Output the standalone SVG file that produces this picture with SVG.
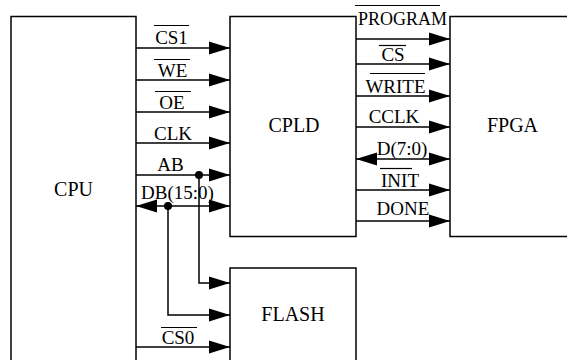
<svg xmlns="http://www.w3.org/2000/svg" width="567" height="360" viewBox="0 0 567 360">
<defs>
<marker id="ah" markerUnits="userSpaceOnUse" markerWidth="22" markerHeight="14" refX="21" refY="7" orient="auto-start-reverse" viewBox="0 0 22 14">
<path d="M0,0.5 L21,7 L0,13.5 Z" fill="#000"/>
</marker>
<style>
.box{fill:#fff;stroke:#000;stroke-width:1.5}
.t{font-size:20px;fill:#000;text-anchor:middle;font-family:'Liberation Serif','Times New Roman',serif}
.s{font-size:19px;fill:#000;text-anchor:middle;font-family:'Liberation Serif','Times New Roman',serif}
.a{fill:none;stroke:#000;stroke-width:1.5;marker-end:url(#ah)}
.d{fill:none;stroke:#000;stroke-width:1.5;marker-start:url(#ah);marker-end:url(#ah)}
.o{stroke:#000;stroke-width:1.2}
</style>
</defs>
<g id="cpu"><rect class="box" x="11" y="16.5" width="125" height="360"/><text class="t" x="73.5" y="196">CPU</text></g>
<g id="cpld"><rect class="box" x="230" y="16.5" width="126" height="220"/><text class="t" x="294" y="132">CPLD</text></g>
<g id="fpga"><rect class="box" x="450" y="16.5" width="130" height="220"/><text class="t" x="512.5" y="132">FPGA</text></g>
<g id="flash"><rect class="box" x="230" y="268" width="126" height="110"/><text class="t" x="293" y="321">FLASH</text></g>
<g id="connectors">
<path class="a" d="M136,48 H230"/>
<path class="a" d="M136,80 H230"/>
<path class="a" d="M136,112 H230"/>
<path class="a" d="M136,143 H230"/>
<path class="a" d="M136,175 H230"/>
<path class="d" d="M136,206 H230"/>
<path class="a" d="M199,175 V283 H230"/>
<path class="a" d="M168,206 V315 H230"/>
<path class="a" d="M136,347 H230"/>
<circle cx="199" cy="175" r="4"/>
<circle cx="168" cy="206" r="4"/>
<path class="a" d="M356,39 H450"/>
<path class="a" d="M356,64 H450"/>
<path class="a" d="M356,96 H450"/>
<path class="a" d="M356,127 H450"/>
<path class="d" d="M356,159 H450"/>
<path class="a" d="M356,190 H450"/>
<path class="a" d="M356,221 H450"/>
</g>
<g id="labels">
<text class="s" x="171.5" y="44">CS1</text><line class="o" x1="154" y1="25.5" x2="189" y2="25.5"/>
<text class="s" x="172.5" y="77">WE</text><line class="o" x1="154" y1="59.5" x2="190" y2="59.5"/>
<text class="s" x="172" y="109">OE</text><line class="o" x1="155" y1="91.5" x2="191" y2="91.5"/>
<text class="s" x="173" y="140">CLK</text>
<text class="s" x="170.5" y="171">AB</text>
<text class="s" x="177.5" y="199">DB(15:0)</text>
<text class="s" x="178" y="344">CS0</text><line class="o" x1="161" y1="327.5" x2="197" y2="327.5"/>
<text class="s" x="402.5" y="25" textLength="89" lengthAdjust="spacingAndGlyphs">PROGRAM</text><line class="o" x1="355" y1="5.5" x2="440" y2="5.5"/>
<text class="s" x="393" y="61">CS</text><line class="o" x1="379" y1="45.5" x2="406" y2="45.5"/>
<text class="s" x="395.5" y="93">WRITE</text><line class="o" x1="370" y1="73.5" x2="425" y2="73.5"/>
<text class="s" x="394" y="123">CCLK</text>
<text class="s" x="402" y="155">D(7:0)</text>
<text class="s" x="400" y="187">INIT</text><line class="o" x1="380" y1="168.5" x2="412" y2="168.5"/>
<text class="s" x="403" y="215">DONE</text>
</g>
</svg>
